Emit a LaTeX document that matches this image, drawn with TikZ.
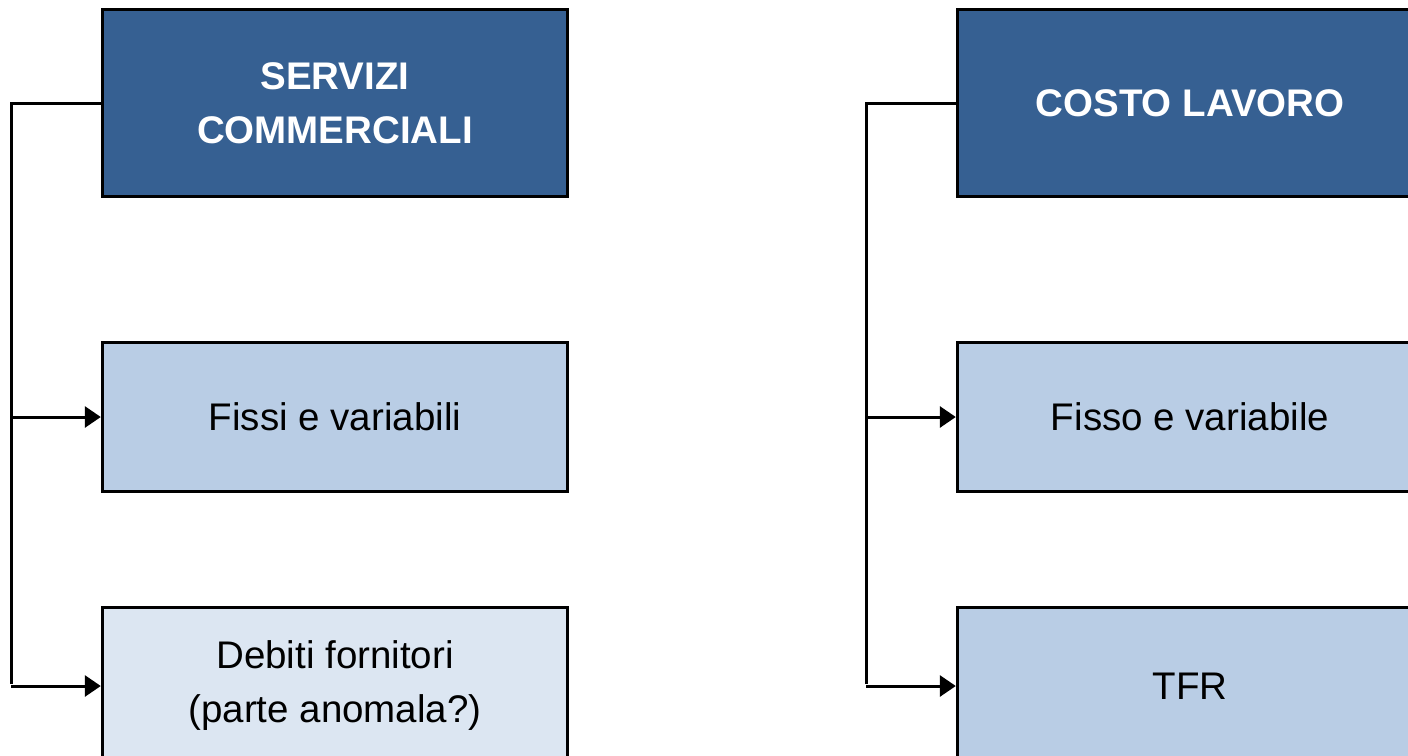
\documentclass[tikz,border=0pt]{standalone}
\usepackage{fontspec}
\setmainfont{Liberation Sans}
\usetikzlibrary{arrows.meta, positioning}

\definecolor{darkblue}{HTML}{366092}
\definecolor{midblue}{HTML}{B9CDE5}
\definecolor{paleblue}{HTML}{DCE6F2}

\tikzset{
  box/.style={draw=black, line width=3.4pt, minimum width=465pt, align=center,
    font=\fontsize{38.5}{54}\selectfont},
  headbox/.style={box, fill=darkblue, text=white, minimum height=187pt,
    font=\fontsize{38.5}{54}\selectfont\bfseries},
  itembox/.style={box, minimum height=149pt},
  link/.style={line width=3pt},
  linkarrow/.style={link, -{Triangle[length=16pt,width=21pt]}}
}

\begin{document}
\begin{tikzpicture}[x=1pt, y=-1pt]
\path[clip] (0,0) rectangle (1408,755);

% servizi commerciali
\node[headbox] (srv) at (335,103) {SERVIZI\\COMMERCIALI};
\node[itembox, fill=midblue] (fissi) at (335,417) {Fissi e variabili};
\node[itembox, fill=paleblue, minimum height=157pt] (debiti) at (335,686) {Debiti fornitori\\(parte anomala?)};

% costo lavoro
\node[headbox] (lav) at (1190,103) {COSTO LAVORO};
\node[itembox, fill=midblue] (fisso) at (1190,417) {Fisso e variabile};
\node[itembox, fill=midblue, minimum height=157pt] (tfr) at (1190,686) {TFR};

\coordinate (trunkL) at (11,684);
\coordinate (trunkR) at (866,684);

\draw[link] (srv.west) -| (trunkL);
\draw[linkarrow] (trunkL |- fissi.west) -- (fissi.west);
\draw[linkarrow] (trunkL |- debiti.west) -- (debiti.west);

\draw[link] (lav.west) -| (trunkR);
\draw[linkarrow] (trunkR |- fisso.west) -- (fisso.west);
\draw[linkarrow] (trunkR |- tfr.west) -- (tfr.west);

\end{tikzpicture}
\end{document}
